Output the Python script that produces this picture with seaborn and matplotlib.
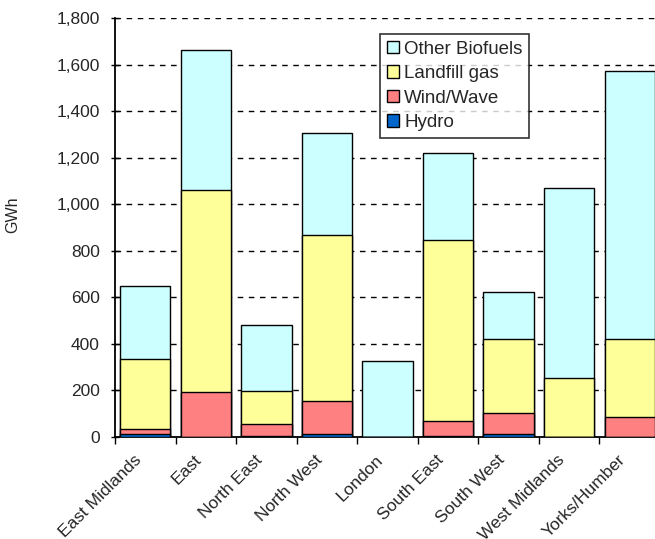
import numpy as np
import pandas as pd
import seaborn as sns
import matplotlib.pyplot as plt
from matplotlib.ticker import FuncFormatter
from matplotlib.patches import Patch
from matplotlib.transforms import ScaledTranslation

regions = ["East Midlands", "East", "North East", "North West", "London",
           "South East", "South West", "West Midlands", "Yorks/Humber"]
hydro = [15, 0, 3, 15, 0, 5, 12, 0, 0]
wind_wave = [20, 193, 53, 140, 0, 65, 92, 0, 85]
landfill_gas = [300, 868, 142, 713, 0, 776, 317, 255, 336]
other_biofuels = [315, 600, 283, 438, 328, 374, 202, 815, 1151]

series = ["Hydro", "Wind/Wave", "Landfill gas", "Other Biofuels"]
colors = {"Hydro": "#0066CC", "Wind/Wave": "#FF8080",
          "Landfill gas": "#FFFF99", "Other Biofuels": "#CCFFFF"}

df = pd.DataFrame({"region": regions, "Hydro": hydro, "Wind/Wave": wind_wave,
                   "Landfill gas": landfill_gas, "Other Biofuels": other_biofuels})
cum = df[series].cumsum(axis=1)
cum["region"] = df["region"]

sns.set_theme(style="white")
plt.rcParams["font.family"] = ["Liberation Sans", "DejaVu Sans"]
fs = 12.5

fig = plt.figure(figsize=(6.55, 5.39), dpi=100)
ax = fig.add_axes([115 / 655, 1 - 437 / 539, 545 / 655, 419 / 539])

# draw cumulative totals from the top layer down so they stack
for name in reversed(series):
    sns.barplot(data=cum, x="region", y=name, color=colors[name], width=0.83,
                edgecolor="black", linewidth=1, saturation=1, ax=ax, zorder=3)

ax.set_xlim(-0.5, 8.5)
ax.set_ylim(0, 1800)
ax.set_yticks(np.arange(0, 1801, 200))
ax.yaxis.set_major_formatter(FuncFormatter(lambda v, p: f"{int(v):,}"))
ax.yaxis.grid(True, color="black", linestyle=(0, (4, 4)), linewidth=1, zorder=0)
ax.set_axisbelow(True)

ax.set_xticks(np.arange(-0.5, 8.6, 1), minor=False)
ax.set_xticklabels([])
ax.set_xticks(np.arange(9), minor=True)
ax.set_xticklabels(regions, minor=True, rotation=45, ha="right",
                   rotation_mode="anchor", fontsize=fs)
ax.tick_params(axis="x", which="minor", length=0, pad=6)
ax.tick_params(axis="x", which="major", length=5, width=1, color="black",
               direction="out", bottom=True)
ax.tick_params(axis="y", length=6, width=1, color="black", direction="inout",
               left=True, labelsize=fs, pad=8)
# nudge the slanted labels left/down (after tick_params, which resets transforms)
shift = ScaledTranslation(-12 / 100, -7 / 100, fig.dpi_scale_trans)
for lbl in ax.get_xticklabels(minor=True):
    lbl.set_transform(lbl.get_transform() + shift)

for side in ["top", "right"]:
    ax.spines[side].set_visible(False)
for side in ["left", "bottom"]:
    ax.spines[side].set_color("black")
    ax.spines[side].set_linewidth(1.3)

ax.set_xlabel("")
ax.set_ylabel("GWh", fontsize=fs - 1)
ax.yaxis.set_label_coords(-95 / 545, 0.53)

handles = [Patch(facecolor=colors[n], edgecolor="black", label=n)
           for n in reversed(series)]
leg = ax.legend(handles=handles, loc="upper left",
                bbox_to_anchor=(265 / 545, 1 - 16 / 419),
                fontsize=13.5, frameon=True, fancybox=False, edgecolor="black",
                handlelength=0.65, handleheight=0.65, handletextpad=0.3,
                borderpad=0.35, labelspacing=0.4, borderaxespad=0)
leg.get_frame().set_linewidth(1.2)

fig.savefig("out.png", dpi=100)
